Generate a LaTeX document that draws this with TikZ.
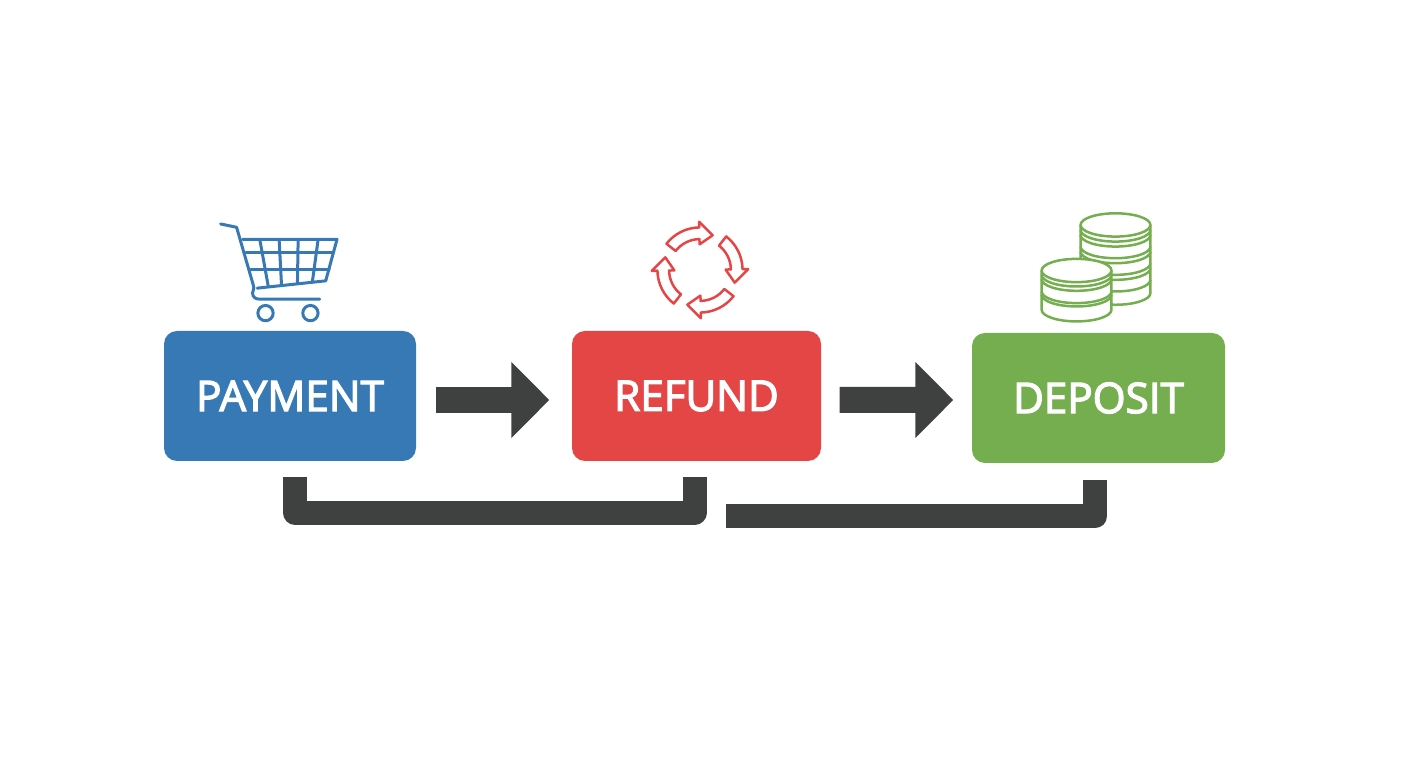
\documentclass[tikz,border=0pt]{standalone}
\usepackage{fontspec}
\setmainfont{Open Sans}
\newfontfamily\stagefont[FakeBold=3]{Open Sans}
\usetikzlibrary{arrows.meta,positioning}
\definecolor{payblue}{HTML}{3779B5}
\definecolor{refundred}{HTML}{E44545}
\definecolor{depositgreen}{HTML}{74AE4F}
\definecolor{linkgray}{HTML}{3F4040}
\tikzset{
	stagebox/.style={rounded corners=.13cm, minimum height=1.3cm, text=white, inner sep=0pt, font=\fontsize{12}{14}\stagefont},
	flowarrow/.style={-{Triangle[length=.38cm,width=.74cm]}, line width=.26cm, draw=linkgray},
	bracketline/.style={line width=.24cm, line join=round, draw=linkgray},
}
\begin{document}
\begin{tikzpicture}
	\useasboundingbox (0,0) rectangle (14.08,7.68);
	% boxes
	\node[stagebox, fill=payblue, minimum width=2.52cm] (payment) at (2.90,3.72) {PAYMENT};
	\node[stagebox, fill=refundred, minimum width=2.49cm] (refund) at (6.965,3.72) {REFUND};
	\node[stagebox, fill=depositgreen, minimum width=2.53cm] (deposit) at (10.985,3.70) {DEPOSIT};
	% arrows between boxes
	\draw[flowarrow, shorten <=.19cm, shorten >=.22cm] ([yshift=-.04cm]payment.east) -- ([yshift=-.04cm]refund.west);
	\draw[flowarrow, shorten <=.18cm, shorten >=.18cm] ([yshift=-.04cm]refund.east) -- ([yshift=-.02cm]deposit.west);
	% brackets underneath
	\coordinate (payfoot) at ([xshift=.05cm,yshift=-.15cm]payment.south);
	\coordinate (refundfoot) at ([xshift=-.02cm,yshift=-.15cm]refund.south);
	\coordinate (depositfoot) at ([xshift=-.035cm,yshift=-.16cm]deposit.south);
	\coordinate (freeend) at (7.26,2.515);
	\draw[bracketline] (payfoot) -- ++(0,-.36) -| (refundfoot);
	\draw[bracketline] (freeend) -| (depositfoot);
	% cart
	\begin{scope}[shift={(2,5.58)}, x=.00333cm, y=-.00333cm, draw=payblue, line width=.03cm, line cap=round, line join=round]
		\draw (62,42) -- (110,52) -- (160,225) .. controls (165,238) and (158,240) .. (158,250) .. controls (158,262) and (168,268) .. (178,268) -- (360,268);
		\draw (128,88) -- (412,88) -- (378,213) -- (172,235);
		\draw (180,90) -- (205,228);
		\draw (238,90) -- (245,224);
		\draw (295,90) -- (293,219);
		\draw (355,90) -- (338,215);
		\draw (138,128) -- (402,128);
		\draw (152,180) -- (388,180);
		\draw (197,310) circle (23);
		\draw (332,310) circle (23);
	\end{scope}
	% cycle of arrows
	\begin{scope}[shift={(7.00,4.98)}, x=.00333cm, y=.00333cm, draw=refundred, line width=.025cm, line join=round]
		\foreach \a in {0,-90,-180,-270}{
			\draw[rotate=\a] (142:128) arc[start angle=142, end angle=91, radius=128] -- (91:145) -- (70:111) -- (91:77) -- (91:93) arc[start angle=91, end angle=142, radius=93] -- cycle;
		}
	\end{scope}
	% coins
	\begin{scope}[shift={(10.30,5.63)}, x=.00333cm, y=-.00333cm, draw=depositgreen, line width=.025cm]
		\draw (152,60) -- (152,265) arc[start angle=180, end angle=0, x radius=105, y radius=35] -- (362,60);
		\draw (257,60) ellipse [x radius=105, y radius=35];
		\foreach \h in {75,90,125,140,175,190,225}{
			\draw (152,\h) arc[start angle=180, end angle=0, x radius=105, y radius=35];
		}
		\fill[white] (35,197) -- (35,315) arc[start angle=180, end angle=0, x radius=105, y radius=35] -- (245,197) -- cycle;
		\draw[fill=white] (140,197) ellipse [x radius=105, y radius=35];
		\draw (35,197) -- (35,315) arc[start angle=180, end angle=0, x radius=105, y radius=35] -- (245,197);
		\foreach \h in {210,223,260,270}{
			\draw (35,\h) arc[start angle=180, end angle=0, x radius=105, y radius=35];
		}
	\end{scope}
\end{tikzpicture}
\end{document}
